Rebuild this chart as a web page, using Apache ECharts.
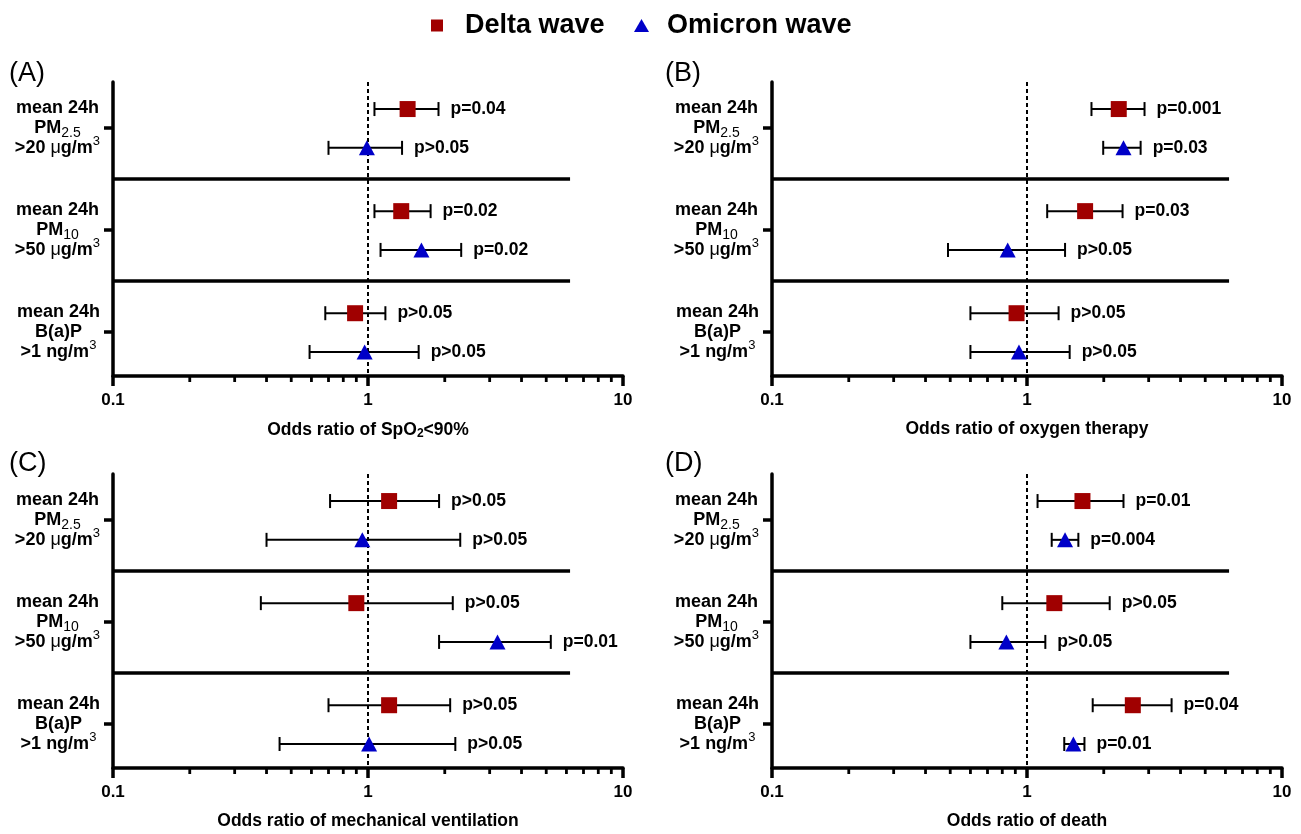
<!DOCTYPE html>
<html>
<head>
<meta charset="utf-8">
<title>Odds ratios, Delta vs Omicron wave</title>
<script src="https://cdn.jsdelivr.net/npm/echarts@6/dist/echarts.min.js"></script>
<style>
html, body { margin: 0; padding: 0; background: #fff; }
#chart { width: 1301px; height: 834px; }
</style>
</head>
<body>
<div id="chart"></div>
<script>
// 4 forest plots (log x axis), delta vs omicron wave, 3 pollutants each
const panelLetters = ['(A)', '(B)', '(C)', '(D)'];
const outcomeTitles = [
    'Odds ratio of SpO{sub|2}<90%',
    'Odds ratio of oxygen therapy',
    'Odds ratio of mechanical ventilation',
    'Odds ratio of death'
];
const pollutantLabels = [
    '{b|mean 24h}\n{b|PM}{sub|2.5}\n{b|>20 }{mu|μ}{b|g/m}{sup|3}',
    '{b|mean 24h}\n{b|PM}{sub|10}\n{b|>50 }{mu|μ}{b|g/m}{sup|3}',
    '{b|mean 24h}\n{b|B(a)P}\n{b|>1 ng/m}{sup|3}'
];
const xTickLabels = ['0.1', '1', '10'];
const minorTicks = [0.2, 0.3, 0.4, 0.5, 0.6, 0.7, 0.8, 0.9, 2, 3, 4, 5, 6, 7, 8, 9];

// rows = panels A..D, columns = PM2.5, PM10, B(a)P
const deltaOR = [[1.43, 1.35, 0.89], [2.29, 1.69, 0.91], [1.21, 0.90, 1.21], [1.65, 1.28, 2.60]];
const deltaLo = [[1.06, 1.06, 0.68], [1.79, 1.20, 0.60], [0.71, 0.38, 0.70], [1.10, 0.80, 1.81]];
const deltaHi = [[1.89, 1.76, 1.17], [2.89, 2.37, 1.33], [1.90, 2.15, 2.10], [2.39, 2.11, 3.69]];
const deltaP = [
    ['p=0.04', 'p=0.02', 'p>0.05'],
    ['p=0.001', 'p=0.03', 'p>0.05'],
    ['p>0.05', 'p>0.05', 'p>0.05'],
    ['p=0.01', 'p>0.05', 'p=0.04']
];
const omicronOR = [[0.99, 1.62, 0.97], [2.39, 0.84, 0.93], [0.95, 3.22, 1.01], [1.41, 0.83, 1.52]];
const omicronLo = [[0.70, 1.12, 0.59], [1.99, 0.49, 0.60], [0.40, 1.90, 0.45], [1.25, 0.60, 1.40]];
const omicronHi = [[1.36, 2.32, 1.58], [2.79, 1.41, 1.47], [2.30, 5.21, 2.20], [1.59, 1.18, 1.68]];
const omicronP = [
    ['p>0.05', 'p=0.02', 'p>0.05'],
    ['p=0.03', 'p>0.05', 'p>0.05'],
    ['p>0.05', 'p=0.01', 'p>0.05'],
    ['p=0.004', 'p>0.05', 'p=0.01']
];

const FONT = '"Liberation Sans", Arial, sans-serif';
const DELTA_COLOR = '#a00000';
const OMICRON_COLOR = '#0000c8';
const Y_MIN = 0.55, Y_MAX = 3.43;
const groupPos = [1, 2, 3];
const deltaShift = -0.185, omicronShift = 0.195;
const sepRows = [1.5, 2.5];
const sepEnd = 6.2;

const gridPos = [
    { left: 113, top: 82 }, { left: 772, top: 82 },
    { left: 113, top: 474 }, { left: 772, top: 474 }
];
const letterPos = [
    { left: 9, top: 60 }, { left: 665, top: 60 },
    { left: 9, top: 450 }, { left: 665, top: 450 }
];

const labelRich = {
    b: { fontFamily: FONT, fontWeight: 'bold', fontSize: 18, lineHeight: 20, align: 'center', color: '#000' },
    mu: { fontFamily: FONT, fontWeight: 'normal', fontSize: 18, lineHeight: 20, align: 'center', color: '#000' },
    sub: { fontFamily: FONT, fontWeight: 'normal', fontSize: 14, lineHeight: 20, align: 'center', color: '#000', padding: [10, 0, 0, 0] },
    sup: { fontFamily: FONT, fontWeight: 'normal', fontSize: 13, lineHeight: 20, align: 'center', color: '#000', padding: [0, 0, 14, 0] }
};

function errorBars(pTexts) {
    return function (params, api) {
        const lo = api.coord([api.value(0), api.value(2)]);
        const hi = api.coord([api.value(1), api.value(2)]);
        const cap = 7;
        const st = { stroke: '#000', lineWidth: 2 };
        return {
            type: 'group',
            children: [
                { type: 'line', shape: { x1: lo[0], y1: lo[1], x2: hi[0], y2: hi[1] }, style: st },
                { type: 'line', shape: { x1: lo[0], y1: lo[1] - cap, x2: lo[0], y2: lo[1] + cap }, style: st },
                { type: 'line', shape: { x1: hi[0], y1: hi[1] - cap, x2: hi[0], y2: hi[1] + cap }, style: st },
                {
                    type: 'text', x: hi[0] + 12, y: hi[1],
                    style: { text: pTexts[params.dataIndex], fill: '#000', font: 'bold 17.5px ' + FONT, align: 'left', verticalAlign: 'middle' }
                }
            ]
        };
    };
}

const grids = [], xAxes = [], yAxes = [], series = [];

for (let i = 0; i < 4; i++) {
    grids.push({ left: gridPos[i].left, top: gridPos[i].top, width: 510, height: 294 });

    xAxes.push({
        type: 'log', logBase: 10, min: 0.1, max: 10, gridIndex: i,
        axisLine: { onZero: false, lineStyle: { color: '#000', width: 3.5 } },
        axisTick: { length: 10, lineStyle: { color: '#000', width: 3.5 } },
        axisLabel: {
            formatter: v => xTickLabels[Math.round(Math.log10(v)) + 1],
            margin: 16, color: '#000', fontWeight: 'bold', fontSize: 17, fontFamily: FONT
        },
        splitLine: { show: false },
        name: outcomeTitles[i], nameLocation: 'middle', nameGap: 44,
        nameTextStyle: {
            color: '#000', fontWeight: 'bold', fontSize: 17.5, fontFamily: FONT,
            rich: { sub: { fontSize: 12, fontWeight: 'bold', fontFamily: FONT, color: '#000', padding: [8, 0, 0, 0] } }
        }
    });

    yAxes.push({
        type: 'value', gridIndex: i, min: Y_MIN, max: Y_MAX, inverse: true,
        axisLine: { show: true, onZero: false, lineStyle: { color: '#000', width: 3.5 } },
        axisTick: { show: true, length: 9, customValues: groupPos, lineStyle: { color: '#000', width: 3.5 } },
        axisLabel: {
            customValues: groupPos, align: 'right', margin: 13,
            formatter: v => pollutantLabels[Math.round(v) - 1],
            rich: labelRich
        },
        splitLine: { show: false }
    });

    // horizontal separators between pollutant groups
    series.push({
        type: 'custom', name: 'sep', xAxisIndex: i, yAxisIndex: i, silent: true,
        data: sepRows.map(y => [0.1, sepEnd, y]),
        renderItem: (params, api) => {
            const a = api.coord([api.value(0), api.value(2)]);
            const b = api.coord([api.value(1), api.value(2)]);
            return { type: 'line', shape: { x1: a[0], y1: a[1], x2: b[0], y2: b[1] }, style: { stroke: '#000', lineWidth: 3.5 } };
        }
    });

    // minor log ticks
    series.push({
        type: 'custom', name: 'minor', xAxisIndex: i, yAxisIndex: i, silent: true,
        data: minorTicks.map(v => [v, Y_MAX]),
        renderItem: (params, api) => {
            const p = api.coord([api.value(0), api.value(1)]);
            return { type: 'line', shape: { x1: p[0], y1: p[1], x2: p[0], y2: p[1] + 6 }, style: { stroke: '#000', lineWidth: 2.8 } };
        }
    });

    series.push({
        type: 'custom', name: 'errDelta', xAxisIndex: i, yAxisIndex: i, silent: true,
        data: groupPos.map((g, k) => [deltaLo[i][k], deltaHi[i][k], g + deltaShift]),
        renderItem: errorBars(deltaP[i])
    });
    series.push({
        type: 'custom', name: 'errOmicron', xAxisIndex: i, yAxisIndex: i, silent: true,
        data: groupPos.map((g, k) => [omicronLo[i][k], omicronHi[i][k], g + omicronShift]),
        renderItem: errorBars(omicronP[i])
    });

    series.push({
        type: 'scatter', name: 'Delta wave', xAxisIndex: i, yAxisIndex: i,
        symbol: 'rect', symbolSize: 16, itemStyle: { color: DELTA_COLOR, opacity: 1 },
        data: groupPos.map((g, k) => [deltaOR[i][k], g + deltaShift]),
        z: 5,
        markLine: {
            silent: true, symbol: 'none', label: { show: false },
            lineStyle: { color: '#000', width: 2, type: [4, 3] },
            data: [{ xAxis: 1 }]
        }
    });
    series.push({
        type: 'scatter', name: 'Omicron wave', xAxisIndex: i, yAxisIndex: i,
        symbol: 'triangle', symbolSize: [16, 15], itemStyle: { color: OMICRON_COLOR, opacity: 1 },
        data: groupPos.map((g, k) => [omicronOR[i][k], g + omicronShift]),
        z: 5
    });
}

const legendText = gap => ({
    rich: {
        g: { width: gap },
        t: { fontSize: 27, fontWeight: 'bold', color: '#000', fontFamily: FONT, lineHeight: 30 }
    }
});

const chart = echarts.init(document.getElementById('chart'));
const option = {
    animation: false,
    backgroundColor: '#fff',
    title: panelLetters.map((t, i) => ({
        text: t, left: letterPos[i].left, top: letterPos[i].top, padding: 0,
        textStyle: { fontSize: 27, fontWeight: 'normal', color: '#000', fontFamily: FONT }
    })),
    legend: [
        {
            data: ['Delta wave'], left: 431, top: 12, padding: 0, itemWidth: 12, itemHeight: 12, selectedMode: false,
            formatter: n => '{g| }{t|' + n + '}', textStyle: legendText(17)
        },
        {
            data: ['Omicron wave'], left: 634, top: 12, padding: 0, itemWidth: 15, itemHeight: 13, selectedMode: false,
            formatter: n => '{g| }{t|' + n + '}', textStyle: legendText(13)
        }
    ],
    grid: grids,
    xAxis: xAxes,
    yAxis: yAxes,
    series: series
};
chart.setOption(option);
window.onresize = () => { chart.resize(); };
</script>
</body>
</html>
